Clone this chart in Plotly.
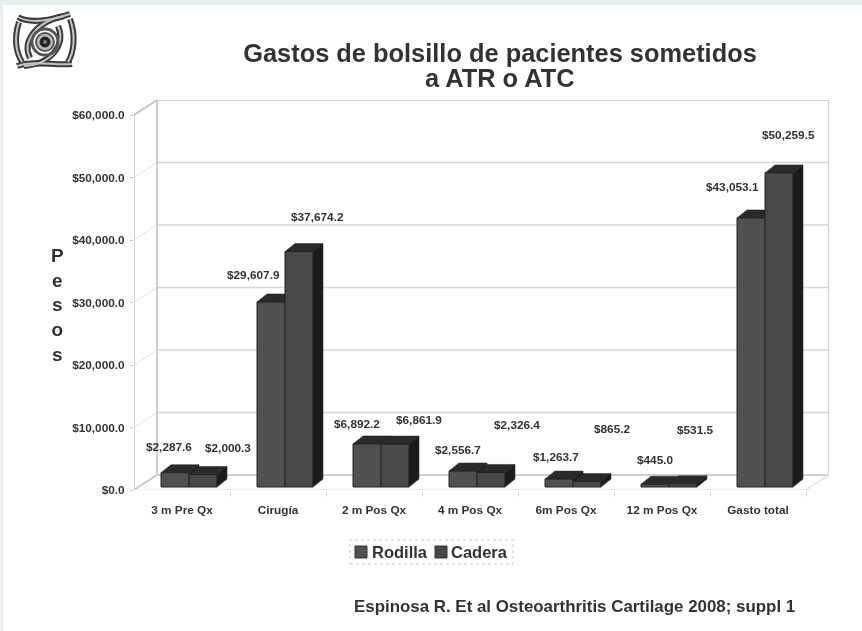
import plotly.graph_objects as go

categories = ['3 m Pre Qx', 'Cirugía', '2 m Pos Qx', '4 m Pos Qx', '6m Pos Qx', '12 m Pos Qx', 'Gasto total']
rodilla = [2287.6, 29607.9, 6892.2, 2556.7, 1263.7, 445.0, 43053.1]
cadera = [2000.3, 37674.2, 6861.9, 2326.4, 865.2, 531.5, 50259.5]
y_ticks = [0, 10000, 20000, 30000, 40000, 50000, 60000]

# where the value labels sit on the page (pixels), they float away from the bars
rodilla_label_x = [169, 253, 357, 458, 556, 655, 732]
rodilla_label_y = [447, 275, 424, 450, 457, 460, 187]
cadera_label_x = [228, 317, 419, 517, 612, 695, 788]
cadera_label_y = [448, 217, 420, 425, 429, 430, 135]

W, H = 862, 631
FONT = 'Liberation Sans'
TEXT = '#333333'

# pixel scales of the front plane of the fake 3D box
PX_CAT = 96.0
PX_VAL = 375 / 60000
LEFT, RIGHT, BOTTOM, TOP = 134, 829, 490, 100

# depth of the box and of the bars, in axis units
WALL_DX = 23 / PX_CAT
WALL_DY = 15 / PX_VAL
BAR_X0 = 7 / PX_CAT
BAR_Y0 = 3 / PX_VAL
BAR_W = 28 / PX_CAT
BAR_DX = 10 / PX_CAT
BAR_DY = 8 / PX_VAL


def px(x):
    return x / W


def py(y):
    return 1 - y / H


def bar_faces(values, first):
    """Top and side polygons of one series, in axis units"""
    top_x, top_y, side_x, side_y = [], [], [], []
    for i, v in enumerate(values):
        left = i + 0.5 + BAR_X0 - (BAR_W if first else 0)
        right = left + BAR_W
        base = BAR_Y0
        head = BAR_Y0 + v
        top_x += [left, left + BAR_DX, right + BAR_DX, right, left, None]
        top_y += [head, head + BAR_DY, head + BAR_DY, head, head, None]
        side_x += [right, right, right + BAR_DX, right + BAR_DX, right, None]
        side_y += [base, head, head + BAR_DY, base + BAR_DY, base, None]
    return top_x, top_y, side_x, side_y


def line_trace(x, y, color, width):
    return go.Scatter(x=x, y=y, mode='lines', line=dict(color=color, width=width),
                      hoverinfo='skip', showlegend=False, cliponaxis=False)


def poly_trace(x, y, color):
    return go.Scatter(x=x, y=y, mode='lines', fill='toself', fillcolor=color,
                      line=dict(color='#222222', width=0.5),
                      hoverinfo='skip', showlegend=False, cliponaxis=False)


n = len(categories)
fig = go.Figure()

# box: gridlines on the back and left walls
for t in y_ticks:
    fig.add_trace(line_trace([0, WALL_DX], [t, t + WALL_DY], '#e2e2e2', 1))
    if t not in (0, 60000):
        fig.add_trace(line_trace([WALL_DX, n + WALL_DX], [t + WALL_DY, t + WALL_DY], '#d6d6d6', 1.5))
top_val = y_ticks[-1]
fig.add_trace(line_trace([0, 0], [0, top_val], '#c4c4c4', 1.5))
fig.add_trace(line_trace([0, WALL_DX, n + WALL_DX, n + WALL_DX, WALL_DX, WALL_DX],
                         [top_val, top_val + WALL_DY, top_val + WALL_DY, WALL_DY, WALL_DY, top_val + WALL_DY],
                         '#c0c0c0', 1.5))
fig.add_trace(line_trace([0, n, n + WALL_DX], [0, 0, WALL_DY], '#e6e6e6', 1.5))
fig.add_trace(line_trace([0, WALL_DX], [0, WALL_DY], '#c4c4c4', 1.5))

# bar tops and sides go under the front faces
for values, first in ((rodilla, True), (cadera, False)):
    top_x, top_y, side_x, side_y = bar_faces(values, first)
    fig.add_trace(poly_trace(top_x, top_y, '#2a2a2a'))
    fig.add_trace(poly_trace(side_x, side_y, '#1b1b1b'))

# front faces live on an overlaid axis pair so they are painted last
fig.add_trace(go.Bar(
    x=[i + 0.5 + BAR_X0 - BAR_W / 2 for i in range(n)],
    y=rodilla, base=BAR_Y0, width=BAR_W, name='Rodilla',
    marker=dict(color='#505050', line=dict(color='#222222', width=1)),
    xaxis='x2', yaxis='y2', showlegend=False))
fig.add_trace(go.Bar(
    x=[i + 0.5 + BAR_X0 + BAR_W / 2 for i in range(n)],
    y=cadera, base=BAR_Y0, width=BAR_W, name='Cadera',
    marker=dict(color='#484848', line=dict(color='#222222', width=1)),
    xaxis='x2', yaxis='y2', showlegend=False))

annotations = []


def add_text(x, y, text, size, anchor='center'):
    annotations.append(dict(x=px(x), y=py(y), xref='paper', yref='paper', text=text, showarrow=False,
                            xanchor=anchor, yanchor='middle',
                            font=dict(family=FONT, size=size, color=TEXT)))


for v, x, y in zip(rodilla + cadera, rodilla_label_x + cadera_label_x, rodilla_label_y + cadera_label_y):
    add_text(x, y, f'<b>${v:,.1f}</b>', 11.8)

add_text(500, 78, '<b>a ATR o ATC</b>', 25.4)
add_text(57, 305, '<b>P<br>e<br>s<br>o<br>s</b>', 19)
add_text(370, 552, '<b>Rodilla</b>', 16.5, 'left')
add_text(449, 552, '<b>Cadera</b>', 16.5, 'left')
add_text(352, 606, '<b>Espinosa R. Et al Osteoarthritis Cartilage 2008; suppl 1</b>', 16.9, 'left')

# page band, legend box and swatches
shapes = [
    dict(type='rect', xref='paper', yref='paper', x0=0, x1=1, y0=py(5), y1=1, fillcolor='#e8eff0', line_width=0, layer='below'),
    dict(type='rect', xref='paper', yref='paper', x0=0, x1=px(3), y0=0, y1=1, fillcolor='#e8eff0', line_width=0, layer='below'),
    dict(type='rect', xref='paper', yref='paper', x0=px(350), x1=px(513), y0=py(564), y1=py(540),
         line=dict(color='#c8c8c8', width=1, dash='dot'), fillcolor='white', layer='below'),
    dict(type='rect', xref='paper', yref='paper', x0=px(355), x1=px(367), y0=py(558), y1=py(546),
         fillcolor='#505050', line=dict(color='#333333', width=1)),
    dict(type='rect', xref='paper', yref='paper', x0=px(435), x1=px(447), y0=py(558), y1=py(546),
         fillcolor='#484848', line=dict(color='#333333', width=1)),
]


def logo_stroke(points, color, width):
    d = 'M' + ' '.join(f'{px(a):.5f},{py(b):.5f}' for a, b in points[:1])
    d += ' C' + ' '.join(f'{px(a):.5f},{py(b):.5f}' for a, b in points[1:])
    shapes.append(dict(type='path', xref='paper', yref='paper', path=d, line=dict(color=color, width=width)))


# logo, a rough drawing of the swirl
logo_curves = [
    [(18, 17), (30, 24), (52, 20), (70, 14)],
    [(17, 66), (35, 60), (55, 66), (72, 64)],
    [(19, 22), (14, 38), (16, 52), (22, 62)],
    [(70, 19), (76, 36), (74, 52), (68, 62)],
    [(64, 16), (35, 22), (22, 42), (30, 58)],
    [(24, 66), (52, 64), (66, 44), (58, 26)],
]
for curve in logo_curves:
    logo_stroke(curve, '#3a3a3a', 6)
for curve in logo_curves:
    logo_stroke(curve, '#c4c4c4', 2)
for r, fill, edge, lw in ((13, 'rgba(0,0,0,0)', '#555555', 3), (9, '#bbbbbb', '#555555', 2), (5, '#222222', '#222222', 1), (2, '#777777', '#777777', 0)):
    shapes.append(dict(type='circle', xref='paper', yref='paper', x0=px(45 - r), x1=px(45 + r),
                       y0=py(42 + r), y1=py(42 - r), fillcolor=fill, line=dict(color=edge, width=lw)))

x_range = [0, (RIGHT - LEFT) / PX_CAT]
y_range = [0, (BOTTOM - TOP) / PX_VAL]
x_domain = [px(LEFT), px(RIGHT)]
y_domain = [py(BOTTOM), py(TOP)]

fig.update_layout(
    width=W, height=H,
    autosize=False,
    margin=dict(l=0, r=0, t=0, b=0),
    paper_bgcolor='white',
    plot_bgcolor='rgba(0,0,0,0)',
    barmode='overlay',
    showlegend=False,
    title=dict(text='<b>Gastos de bolsillo de pacientes sometidos</b>', x=px(500), y=py(53),
               xanchor='center', yanchor='middle', font=dict(family=FONT, size=25.4, color=TEXT)),
    annotations=annotations,
    shapes=shapes,
    xaxis=dict(domain=x_domain, range=x_range, showgrid=False, zeroline=False, showline=False, automargin=False,
               tickvals=[i + 0.5 for i in range(n)], ticktext=[f'<b>{c}</b>' for c in categories],
               ticks='', ticklabelstandoff=11, tickfont=dict(family=FONT, size=11.8, color=TEXT),
               minor=dict(tickvals=list(range(1, n + 1)), ticks='outside', ticklen=6, tickcolor='#dddddd')),
    yaxis=dict(domain=y_domain, range=y_range, showgrid=False, zeroline=False, showline=False, automargin=False,
               tickvals=y_ticks, ticktext=[f'<b>${t:,.1f}</b>' for t in y_ticks],
               ticks='outside', ticklen=3, tickcolor='#c4c4c4', ticklabelstandoff=3,
               tickfont=dict(family=FONT, size=11.8, color=TEXT)),
    xaxis2=dict(domain=x_domain, range=x_range, overlaying='x', visible=False),
    yaxis2=dict(domain=y_domain, range=y_range, overlaying='y', visible=False),
)

# the reference is a soft scan, a slight blur brings the page close to it
fig.write_html('out.html', config=dict(displayModeBar=False),
               post_script="document.body.style.margin='0';"
                           "document.querySelector('.plotly-graph-div').style.filter='blur(0.6px)';")
